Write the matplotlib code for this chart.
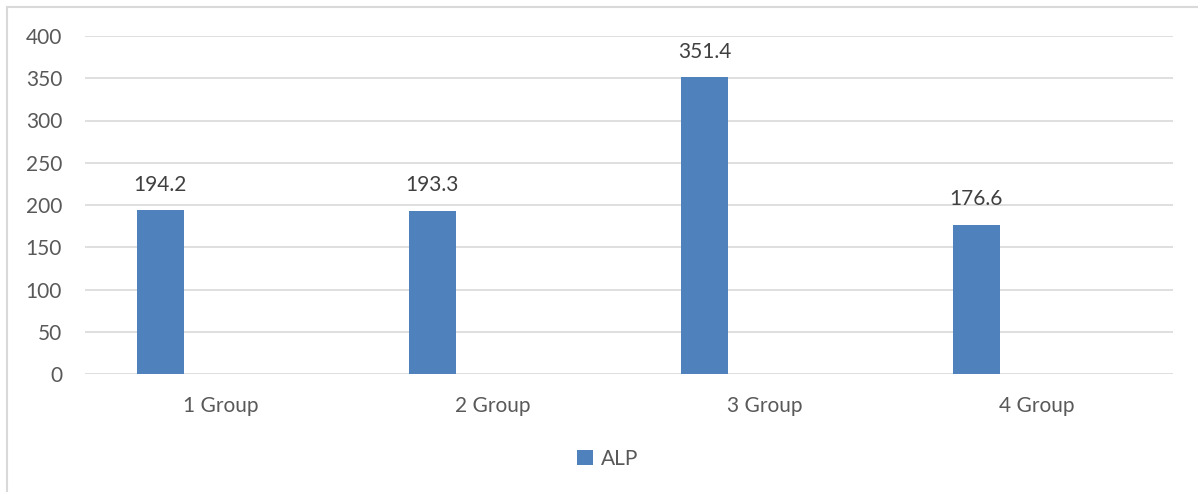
import matplotlib.pyplot as plt
from matplotlib.lines import Line2D

groups = ['1 Group', '2 Group', '3 Group', '4 Group']
alp = [194.2, 193.3, 351.4, 176.6]
y_ticks = [0, 50, 100, 150, 200, 250, 300, 350, 400]

plt.rcParams['font.family'] = ['Lato', 'DejaVu Sans']
text_col = '#595959'
bar_col = '#4f81bd'
fs = 15

fig = plt.figure(figsize=(11.98, 4.92), dpi=100)
ax = fig.add_axes([85 / 1198, 118 / 492, 1088 / 1198, 338 / 492])

# bar sits on the left side of each category slot (Excel clustered layout)
xs = [i - 0.223 for i in range(len(groups))]
bars = ax.bar(xs, alp, width=0.174, color=bar_col, label='ALP', zorder=3)
for x, v in zip(xs, alp):
    ax.annotate(f'{v:.1f}', (x, v), xytext=(0, 11), textcoords='offset points',
                ha='center', va='bottom', fontsize=fs, color='#404040')

ax.set_xlim(-0.5, 3.5)
ax.set_ylim(0, 400)
ax.set_yticks(y_ticks)
ax.set_xticks(range(len(groups)))
ax.set_xticklabels(groups)
ax.tick_params(axis='both', length=0, labelsize=fs, labelcolor=text_col)
ax.tick_params(axis='x', pad=16)
ax.tick_params(axis='y', pad=16.5)
ax.grid(axis='y', color='#d9d9d9', linewidth=1.2, zorder=0)
for s in ax.spines.values():
    s.set_visible(False)

fig.legend(handles=[bars], labels=['ALP'], loc='center', bbox_to_anchor=(608 / 1198, 33 / 492),
           frameon=False, fontsize=fs, labelcolor=text_col, handlelength=0.75, handleheight=0.75,
           handletextpad=0.4)

# chart frame: only top and left edges are visible (cropped screenshot)
fig.lines.append(Line2D([6.5 / 1198, 1], [1 - 6.5 / 492, 1 - 6.5 / 492], transform=fig.transFigure,
                        color='#d9d9d9', linewidth=1.5))
fig.lines.append(Line2D([6.5 / 1198, 6.5 / 1198], [0, 1 - 6.5 / 492], transform=fig.transFigure,
                        color='#d9d9d9', linewidth=1.5))

fig.savefig('out.png', dpi=100)
